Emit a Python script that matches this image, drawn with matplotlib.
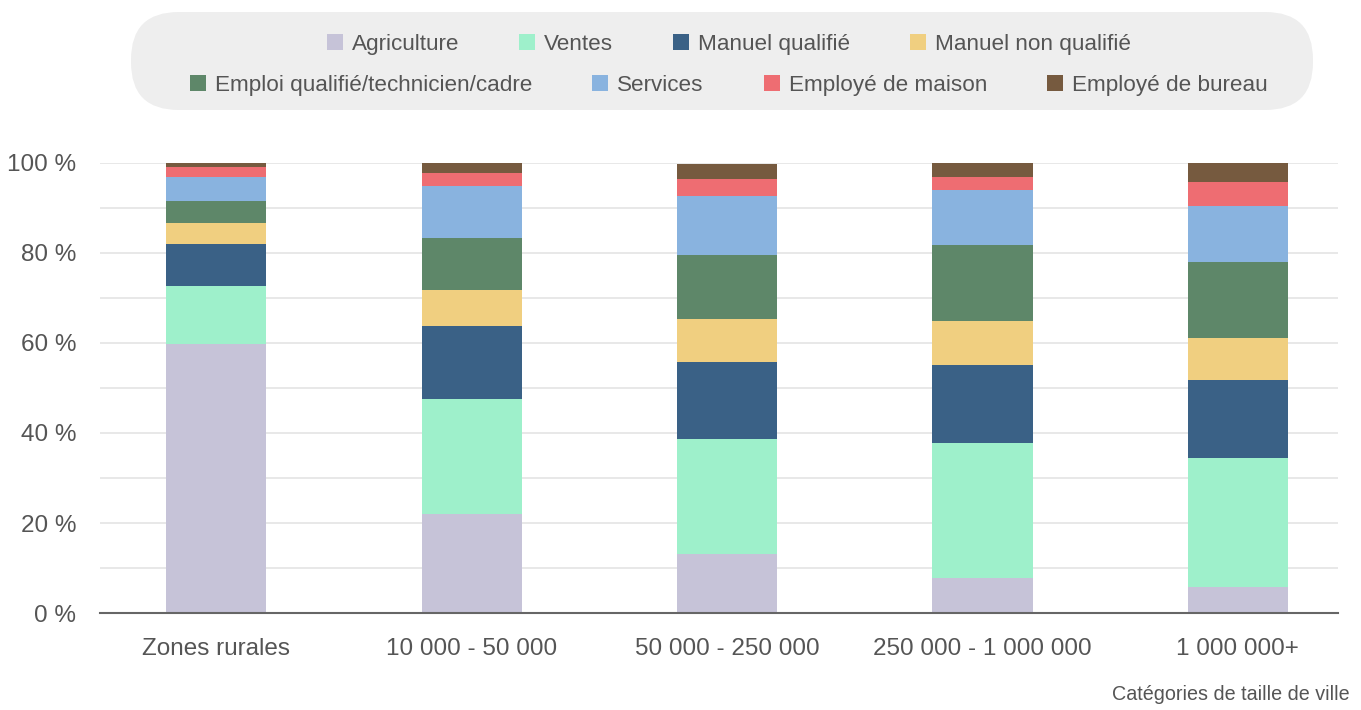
import matplotlib
matplotlib.use("Agg")
import matplotlib.pyplot as plt
from matplotlib.patches import FancyBboxPatch, Rectangle
import numpy as np

plt.rcParams['font.family'] = ['Liberation Sans', 'DejaVu Sans']

# Data
categories = ["Zones rurales", "10 000 - 50 000", "50 000 - 250 000",
              "250 000 - 1 000 000", "1 000 000+"]
series_names = ["Agriculture", "Ventes", "Manuel qualifié", "Manuel non qualifié",
                "Emploi qualifié/technicien/cadre", "Services",
                "Employé de maison", "Employé de bureau"]
agriculture = [59.8, 22.0, 13.2, 7.8, 5.8]
ventes = [12.9, 25.6, 25.5, 30.0, 28.6]
manuel_qualifie = [9.3, 16.2, 17.1, 17.3, 17.4]
manuel_non_qualifie = [4.7, 8.0, 9.5, 9.8, 9.3]
emploi_qualifie = [4.9, 11.5, 14.3, 16.9, 16.9]
services = [5.3, 11.6, 13.1, 12.2, 12.4]
employe_maison = [2.2, 2.9, 3.7, 2.9, 5.4]
employe_bureau = [0.9, 2.2, 3.4, 3.1, 4.2]
y_ticks = [0, 20, 40, 60, 80, 100]

colors = ["#c6c3d8", "#9ef0cb", "#3a6186", "#f0cf80",
          "#5e8769", "#89b3df", "#ee6d72", "#765a3f"]
text_color = "#555555"

all_series = [agriculture, ventes, manuel_qualifie, manuel_non_qualifie,
              emploi_qualifie, services, employe_maison, employe_bureau]

W, H = 1361, 710
fig = plt.figure(figsize=(W / 100, H / 100), dpi=100)
ax = fig.add_axes([100 / W, 97 / H, 1238 / W, 450 / H])

x = np.arange(len(categories))
bottom = np.zeros(len(categories))
for name, values, color in zip(series_names, all_series, colors):
    ax.bar(x, values, width=0.392, bottom=bottom, color=color, label=name, zorder=2)
    bottom += np.array(values)

ax.set_xlim(-0.455, 4.392)
ax.set_ylim(0, 100)
ax.set_xticks(x)
ax.set_xticklabels(categories, fontsize=17.5, color=text_color)
ax.set_yticks(y_ticks)
ax.set_yticklabels([f"{t} %" for t in y_ticks], fontsize=17.5, color=text_color)
ax.set_yticks(np.arange(0, 101, 10), minor=True)
ax.tick_params(axis='both', which='both', length=0)
ax.tick_params(axis='y', pad=17)
ax.tick_params(axis='x', pad=18)
ax.grid(axis='y', which='both', color='#e6e6e6', linewidth=1.3, zorder=0)
ax.set_axisbelow(True)
for side in ['top', 'right', 'left']:
    ax.spines[side].set_visible(False)
ax.spines['bottom'].set_color('#666666')
ax.spines['bottom'].set_linewidth(1.5)
ax.spines['bottom'].set_zorder(3)

fig.text(1350 / W, 1 - 695 / H, "Catégories de taille de ville",
         ha='right', va='center', fontsize=14.2, color=text_color)

# Legend box
box = FancyBboxPatch((131 / W, 1 - 110 / H), (1313 - 131) / W, 98 / H,
                     boxstyle="round,pad=0,rounding_size=0.035",
                     transform=fig.transFigure, facecolor="#eeeeee",
                     edgecolor="none", mutation_aspect=W / H)
fig.patches.append(box)

# Legend entries laid out row by row, centred on the box (pixel units)
square = 16
text_gap = 9
item_gap = 60
legend_center = 729
renderer = fig.canvas.get_renderer()
rows = [(range(0, 4), 42), (range(4, 8), 83)]
for idx, ypix in rows:
    labels = []
    widths = []
    for i in idx:
        t = fig.text(0, 1 - ypix / H, series_names[i], fontsize=16.2,
                     color=text_color, va='center_baseline', ha='left')
        labels.append(t)
        widths.append(t.get_window_extent(renderer).width)
    total = sum(square + text_gap + w for w in widths) + item_gap * (len(widths) - 1)
    xpix = legend_center - total / 2
    for i, t, w in zip(idx, labels, widths):
        fig.patches.append(Rectangle((xpix / W, 1 - (ypix + square / 2) / H),
                                     square / W, square / H,
                                     transform=fig.transFigure,
                                     facecolor=colors[i], edgecolor='none'))
        t.set_x((xpix + square + text_gap) / W)
        xpix += square + text_gap + w + item_gap

plt.savefig("out.png", dpi=100)
